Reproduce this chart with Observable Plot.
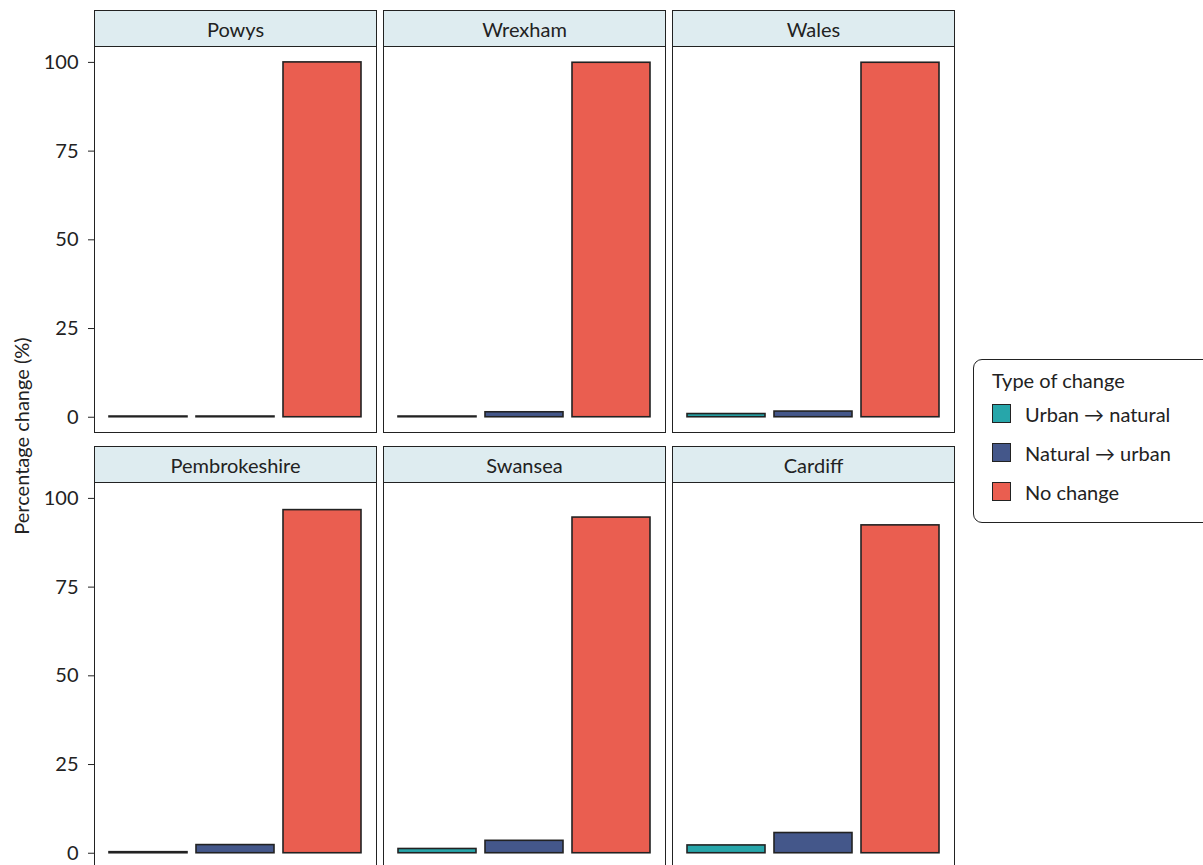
<!DOCTYPE html>
<html>
<head>
<meta charset="utf-8">
<script src="https://cdn.jsdelivr.net/npm/d3@7"></script>
<script src="https://cdn.jsdelivr.net/npm/@observablehq/plot@0.6"></script>
<style>
  html, body { margin: 0; padding: 0; background: #fff; }
  #chart { position: relative; width: 1203px; height: 865px; overflow: hidden; font-family: Lato, "Noto Sans", sans-serif; font-weight: 400; color: #222; }
  .strip { position: absolute; box-sizing: border-box; background: #deecf0; border: 1.5px solid #222; border-bottom: none;
           display: flex; align-items: center; justify-content: center; font-size: 20px; font-weight: 400; color: #222; }
  .panel-border { position: absolute; box-sizing: border-box; border: 1.5px solid #222; pointer-events: none; }
  .panel { position: absolute; }
  .ylab { position: absolute; font-size: 20px; white-space: nowrap; transform: translate(-50%, -50%) rotate(-90deg); }
  .legend { position: absolute; box-sizing: border-box; border: 1.5px solid #222; border-radius: 9px; background: #fff; padding: 8px 0 0 18px; }
  .legend .title { font-size: 20px; margin-bottom: 2px; }
  .legend .item { display: flex; align-items: center; height: 39px; font-size: 20px; }
  .legend .sw { width: 19px; height: 19px; box-sizing: border-box; border: 1.5px solid #222; margin-right: 14px; }
</style>
</head>
<body>
<div id="chart"></div>
<script>
// Regions shown as facets, in reading order
const regions = ["Powys", "Wrexham", "Wales", "Pembrokeshire", "Swansea", "Cardiff"];
// Land-cover change types
const types = ["Urban \u2192 natural", "Natural \u2192 urban", "No change"];
const typeColors = ["#27a6aa", "#44578a", "#ea5e50"];
// Percentage of area per region for each change type
const urbanToNatural = [0.2, 0.2, 0.9, 0.3, 1.2, 2.2];
const naturalToUrban = [0.2, 1.4, 1.6, 2.3, 3.5, 5.7];
const noChange       = [100, 99.9, 99.9, 96.7, 94.6, 92.4];
const yTicks = [0, 25, 50, 75, 100];

const data = regions.flatMap((r, i) => [
  {region: r, type: types[0], value: urbanToNatural[i]},
  {region: r, type: types[1], value: naturalToUrban[i]},
  {region: r, type: types[2], value: noChange[i]}
]);

const chart = document.getElementById("chart");
const colLeft = [95, 384, 673];
const panelTop = [47, 483];
const panelW = 281, panelH = 385, stripH = 36, axisW = 95;

regions.forEach((region, i) => {
  const col = i % 3, row = Math.floor(i / 3);
  const left = colLeft[col], top = panelTop[row];
  const withAxis = col === 0;

  // strip label box above the panel; the panel border closes it underneath
  const strip = document.createElement("div");
  strip.className = "strip";
  strip.style.left = (left - 1) + "px";
  strip.style.top = (top - stripH - 1) + "px";
  strip.style.width = (panelW + 2) + "px";
  strip.style.height = (stripH + 1) + "px";
  strip.textContent = region;
  chart.appendChild(strip);

  const plot = Plot.plot({
    width: panelW + (withAxis ? axisW : 0),
    height: panelH,
    marginTop: 0, marginBottom: 0, marginRight: 0,
    marginLeft: withAxis ? axisW : 0,
    style: {overflow: "visible", background: "transparent", fontFamily: "Lato, 'Noto Sans', sans-serif", fontSize: "20px", color: "#222"},
    x: {type: "band", domain: types, paddingInner: 0.1, paddingOuter: 0.15, axis: null},
    y: {domain: [-4.3, 104.2], ticks: yTicks, tickFormat: d => d, axis: withAxis ? "left" : null,
        tickSize: 7, tickPadding: 10, label: null},
    color: {domain: types, range: typeColors},
    marks: [
      Plot.barY(data.filter(d => d.region === region), {
        x: "type", y: "value", fill: "type", stroke: "#222", strokeWidth: 1.6
      })
    ]
  });
  plot.classList.add("panel");
  plot.style.left = (withAxis ? left - axisW : left) + "px";
  plot.style.top = top + "px";
  chart.appendChild(plot);

  const border = document.createElement("div");
  border.className = "panel-border";
  border.style.left = (left - 1) + "px";
  border.style.top = (top - 1) + "px";
  border.style.width = (panelW + 2) + "px";
  border.style.height = (panelH + 2) + "px";
  chart.appendChild(border);
});

// Shared y-axis title
const ylab = document.createElement("div");
ylab.className = "ylab";
ylab.style.left = "21px";
ylab.style.top = "436px";
ylab.textContent = "Percentage change (%)";
chart.appendChild(ylab);

// Legend
const legend = document.createElement("div");
legend.className = "legend";
legend.style.left = "973px";
legend.style.top = "359px";
legend.style.width = "240px";
legend.style.height = "164px";
const title = document.createElement("div");
title.className = "title";
title.textContent = "Type of change";
legend.appendChild(title);
types.forEach((t, k) => {
  const item = document.createElement("div");
  item.className = "item";
  const sw = document.createElement("div");
  sw.className = "sw";
  sw.style.background = typeColors[k];
  const lab = document.createElement("span");
  lab.textContent = t;
  item.appendChild(sw);
  item.appendChild(lab);
  legend.appendChild(item);
});
chart.appendChild(legend);
</script>
</body>
</html>
